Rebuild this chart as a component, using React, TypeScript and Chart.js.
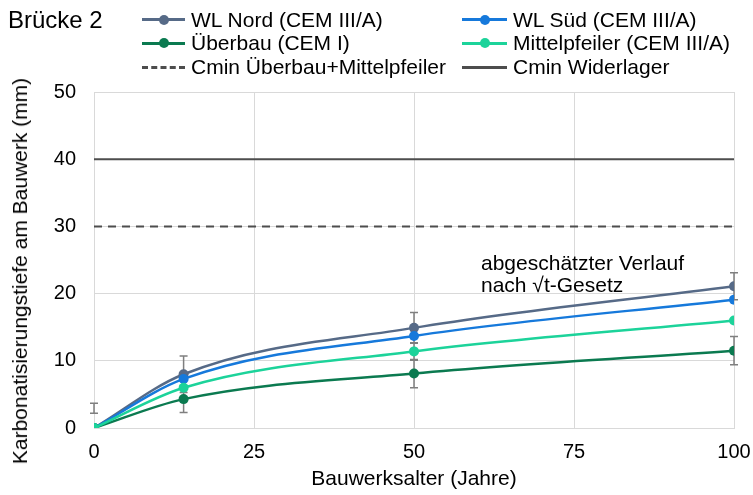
import React, { useEffect, useRef } from "react";
import { Chart, registerables } from "chart.js";

Chart.register(...registerables);

const ages = [0, 14, 50, 100];
const wlNord = [0, 8.0, 14.9, 21.1];
const wlSued = [0, 7.3, 13.7, 19.1];
const ueberbau = [0, 4.3, 8.1, 11.5];
const mittelpfeiler = [0, 6.0, 11.4, 16.0];

const refAges = [0, 100];
const cminUeberbau = [30, 30];
const cminWiderlager = [40, 40];

const errAges = [0, 14, 14, 50, 50, 50, 100, 100];
const errLow = [2.2, 5.3, 2.3, 12.6, 10.1, 6.0, 19.1, 9.4];
const errHigh = [3.7, 10.7, 6.3, 17.2, 12.7, 10.2, 23.1, 13.6];

const xTicks = [0, 25, 50, 75, 100];
const yTicks = [0, 10, 20, 30, 40, 50];

const FONT = "'Liberation Sans', Arial, sans-serif";

const C_NORD = "#566A87";
const C_SUED = "#1679DB";
const C_UEB = "#0B7A50";
const C_MIT = "#1CD39A";
const C_REF = "#4d4d4d";

const toPts = (xs: number[], ys: number[]) => xs.map((x, i) => ({ x, y: ys[i] }));

const errorBarPlugin = {
  id: "errorBars",
  beforeDatasetsDraw(chart: any) {
    const { ctx, scales } = chart;
    const xs = scales.x;
    const ys = scales.y;
    ctx.save();
    ctx.strokeStyle = "#7f7f7f";
    ctx.lineWidth = 1.5;
    errAges.forEach((a, i) => {
      const px = xs.getPixelForValue(a);
      const pl = ys.getPixelForValue(errLow[i]);
      const ph = ys.getPixelForValue(errHigh[i]);
      ctx.beginPath();
      ctx.moveTo(px, pl);
      ctx.lineTo(px, ph);
      ctx.moveTo(px - 4, pl);
      ctx.lineTo(px + 4, pl);
      ctx.moveTo(px - 4, ph);
      ctx.lineTo(px + 4, ph);
      ctx.stroke();
    });
    ctx.restore();
  },
};

function LegendItem(props: { x: number; y: number; w: number; color: string; label: string; kind: "marker" | "dash" | "solid" }) {
  const { x, y, w, color, label, kind } = props;
  const line =
    kind === "dash" ? (
      <div style={{ position: "absolute", left: 0, top: -1.5, width: w, height: 0, borderTop: `3px dashed ${color}` }} />
    ) : (
      <div style={{ position: "absolute", left: 0, top: -1.5, width: w, height: 3, background: color }} />
    );
  return (
    <div style={{ position: "absolute", left: x, top: y, height: 0 }}>
      {line}
      {kind === "marker" && (
        <div
          style={{
            position: "absolute",
            left: w / 2 - 5,
            top: -5,
            width: 10,
            height: 10,
            borderRadius: 5,
            background: color,
          }}
        />
      )}
      <div
        style={{
          position: "absolute",
          left: w + 6,
          top: -12,
          lineHeight: "24px",
          fontSize: 21,
          whiteSpace: "nowrap",
          color: "#000",
        }}
      >
        {label}
      </div>
    </div>
  );
}

export default function App() {
  const ref = useRef<HTMLCanvasElement | null>(null);

  useEffect(() => {
    const prevMargin = document.body.style.margin;
    document.body.style.margin = "0";
    const canvas = ref.current!;
    const lineDs = (label: string, data: number[], color: string, order: number) => ({
      label,
      data: toPts(ages, data),
      borderColor: color,
      backgroundColor: color,
      borderWidth: 2.5,
      pointRadius: 5,
      pointBorderWidth: 0,
      pointBackgroundColor: color,
      cubicInterpolationMode: "monotone",
      order,
    });
    const chart = new Chart(canvas, {
      type: "line",
      data: {
        datasets: [
          {
            label: "Cmin Widerlager",
            data: toPts(refAges, cminWiderlager),
            borderColor: C_REF,
            borderWidth: 2,
            pointRadius: 0,
            order: 10,
          },
          {
            label: "Cmin Überbau+Mittelpfeiler",
            data: toPts(refAges, cminUeberbau),
            borderColor: C_REF,
            borderWidth: 2,
            borderDash: [8, 6],
            pointRadius: 0,
            order: 9,
          },
          lineDs("WL Nord (CEM III/A)", wlNord, C_NORD, 4),
          lineDs("WL Süd (CEM III/A)", wlSued, C_SUED, 3),
          lineDs("Überbau (CEM I)", ueberbau, C_UEB, 2),
          lineDs("Mittelpfeiler (CEM III/A)", mittelpfeiler, C_MIT, 1),
        ] as any,
      },
      options: {
        animation: false,
        responsive: false,
        maintainAspectRatio: false,
        layout: { padding: { top: 92, right: 0, left: 0, bottom: 0 } },
        plugins: { legend: { display: false }, tooltip: { enabled: false } },
        scales: {
          x: {
            type: "linear",
            min: 0,
            max: 100,
            afterBuildTicks: (s: any) => {
              s.ticks = xTicks.map((v) => ({ value: v }));
            },
            afterFit: (s: any) => {
              s.height = 67;
              s.paddingRight = 19;
              s.paddingLeft = 0;
            },
            grid: { color: "#d9d9d9", lineWidth: 1, drawTicks: false },
            border: { color: "#d9d9d9", width: 1 },
            ticks: { padding: 12, color: "#000", font: { family: FONT, size: 20 }, maxRotation: 0 },
            title: {
              display: true,
              text: "Bauwerksalter (Jahre)",
              color: "#000",
              font: { family: FONT, size: 21 },
              padding: { top: 0, bottom: 3 },
            },
          },
          y: {
            type: "linear",
            min: 0,
            max: 50,
            afterBuildTicks: (s: any) => {
              s.ticks = yTicks.map((v) => ({ value: v }));
            },
            afterFit: (s: any) => {
              s.width = 94;
            },
            grid: { color: "#d9d9d9", lineWidth: 1, drawTicks: false },
            border: { color: "#d9d9d9", width: 1 },
            ticks: { padding: 18, color: "#000", font: { family: FONT, size: 20 } },
            title: { display: false },
          },
        },
      },
      plugins: [errorBarPlugin],
    } as any);
    return () => {
      chart.destroy();
      document.body.style.margin = prevMargin;
    };
  }, []);

  return (
    <div style={{ position: "absolute", left: 0, top: 0, width: 753, height: 495, fontFamily: FONT, background: "#fff" }}>
      <canvas ref={ref} width={753} height={495} style={{ position: "absolute", left: 0, top: 0, width: 753, height: 495 }} />
      <div style={{ position: "absolute", left: 8, top: 5, fontSize: 24, lineHeight: "30px", color: "#000", whiteSpace: "nowrap" }}>
        Brücke 2
      </div>
      <LegendItem x={142} y={19.5} w={43} color={C_NORD} label="WL Nord (CEM III/A)" kind="marker" />
      <LegendItem x={462} y={19.5} w={45} color={C_SUED} label="WL Süd (CEM III/A)" kind="marker" />
      <LegendItem x={142} y={43} w={43} color={C_UEB} label="Überbau (CEM I)" kind="marker" />
      <LegendItem x={462} y={43} w={45} color={C_MIT} label="Mittelpfeiler (CEM III/A)" kind="marker" />
      <LegendItem x={142} y={67} w={43} color={C_REF} label="Cmin Überbau+Mittelpfeiler" kind="dash" />
      <LegendItem x={462} y={67} w={45} color={C_REF} label="Cmin Widerlager" kind="solid" />
      <div
        style={{
          position: "absolute",
          left: 20,
          top: 271,
          width: 0,
          height: 0,
        }}
      >
        <div
          style={{
            position: "absolute",
            left: 0,
            top: 0,
            transform: "translate(-50%, -50%) rotate(-90deg)",
            fontSize: 21,
            lineHeight: "24px",
            whiteSpace: "nowrap",
            color: "#000",
          }}
        >
          Karbonatisierungstiefe am Bauwerk (mm)
        </div>
      </div>
      <div style={{ position: "absolute", left: 481, top: 252, fontSize: 21, lineHeight: "22px", color: "#000", whiteSpace: "nowrap" }}>
        abgeschätzter Verlauf
        <br />
        nach √t-Gesetz
      </div>
    </div>
  );
}
